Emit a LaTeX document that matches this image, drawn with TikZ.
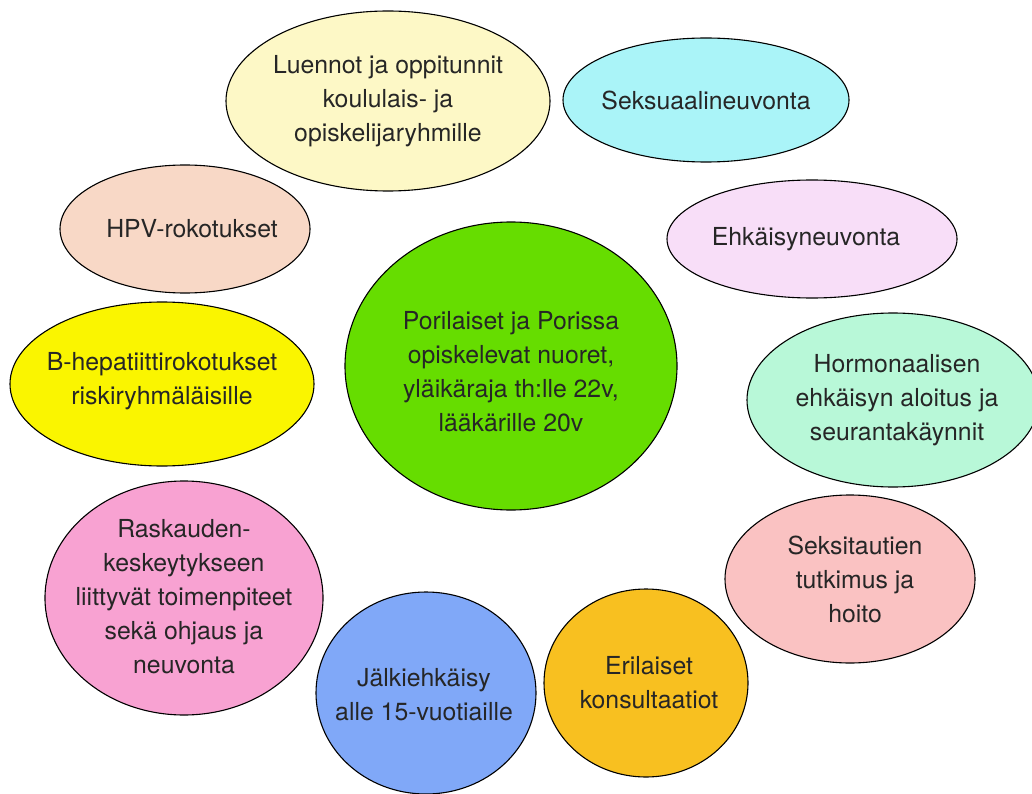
\documentclass[tikz,border=0pt]{standalone}
\usepackage{fontspec}
\setmainfont{TeX Gyre Heros}
\usetikzlibrary{shapes.geometric}
\definecolor{cLuen}{HTML}{FDF8C6}
\definecolor{cSeks}{HTML}{AAF4F8}
\definecolor{cHPV}{HTML}{F8D8C6}
\definecolor{cEhk}{HTML}{F8DEF8}
\definecolor{cCen}{HTML}{66DD00}
\definecolor{cBhep}{HTML}{FAF500}
\definecolor{cHorm}{HTML}{B8F8D8}
\definecolor{cRask}{HTML}{F8A2D2}
\definecolor{cTaut}{HTML}{FAC2C2}
\definecolor{cJalk}{HTML}{80A8F8}
\definecolor{cEril}{HTML}{F8C020}
\definecolor{cTxt}{HTML}{262626}
\tikzset{
  bubble/.style n args={2}{ellipse, draw=black, line width=1.1pt, inner sep=0pt,
    minimum width=#1, minimum height=#2},
  txt/.style={align=center, text=cTxt, inner sep=0pt,
    font=\fontsize{24.8}{34}\selectfont}
}
\begin{document}
\begin{tikzpicture}[x=1pt,y=-1pt]
\useasboundingbox (0,0) rectangle (1032,794);
\fill[white] (0,0) rectangle (1032,794);
\node[bubble={324pt}{180pt}, fill=cLuen, label={[txt]center:Luennot ja oppitunnit\\koululais- ja\\opiskelijaryhmille}] (luen) at (388,101) {};
\node[bubble={286pt}{124pt}, fill=cSeks, label={[txt]center:Seksuaalineuvonta}] (seks) at (706,100) {};
\node[bubble={250pt}{128pt}, fill=cHPV, label={[txt,xshift=7pt]center:HPV-rokotukset}] (hpv) at (185,229) {};
\node[bubble={290pt}{118pt}, fill=cEhk, label={[txt,xshift=-6pt]center:Ehkäisyneuvonta}] (ehk) at (812,239) {};
\node[bubble={332pt}{288pt}, fill=cCen, label={[txt,yshift=-6pt]center:Porilaiset ja Porissa\\opiskelevat nuoret,\\yläikäraja th:lle 22v,\\lääkärille 20v}] (cen) at (511,366) {};
\node[bubble={304pt}{164pt}, fill=cBhep, label={[txt,yshift=3pt]center:B-hepatiittirokotukset\\riskiryhmäläisille}] (bhep) at (162,384) {};
\node[bubble={292pt}{174pt}, fill=cHorm, label={[txt,xshift=4pt]center:Hormonaalisen\\ehkäisyn aloitus ja\\seurantakäynnit}] (horm) at (893,400) {};
\node[bubble={278pt}{234pt}, fill=cRask, label={[txt,yshift=1pt]center:Raskauden-\\keskeytykseen\\liittyvät toimenpiteet\\sekä ohjaus ja\\neuvonta}] (rask) at (184,598) {};
\node[bubble={250pt}{168pt}, fill=cTaut, label={[txt,xshift=5pt]center:Seksitautien\\tutkimus ja\\hoito}] (taut) at (850,579) {};
\node[bubble={220pt}{202pt}, fill=cJalk, label={[txt,xshift=-2pt,yshift=-2pt]center:Jälkiehkäisy\\alle 15-vuotiaille}] (jalk) at (426,693) {};
\node[bubble={204pt}{188pt}, fill=cEril, label={[txt,xshift=3pt]center:Erilaiset\\konsultaatiot}] (eril) at (646,683) {};
\end{tikzpicture}
\end{document}
